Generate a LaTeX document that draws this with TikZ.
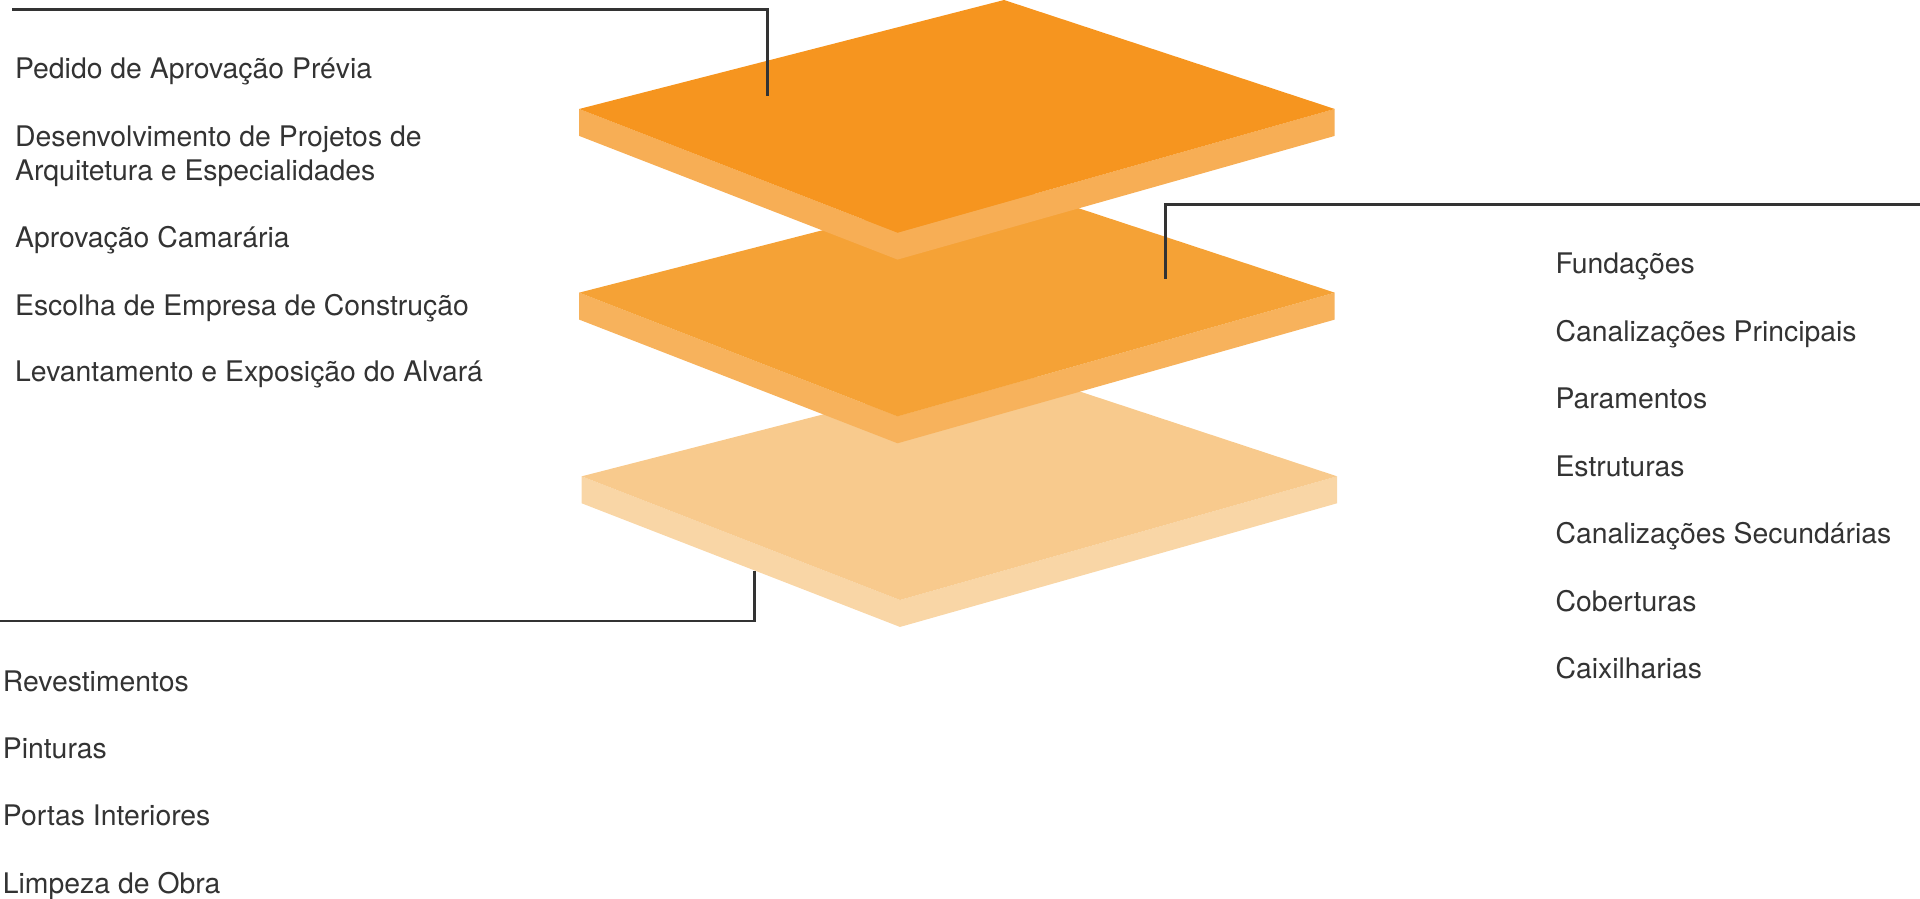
\documentclass[tikz,border=0pt]{standalone}
\usepackage{fontspec}
\setmainfont{TeX Gyre Heros}
\usepackage{tikz}
\usetikzlibrary{positioning,calc}
\definecolor{inktext}{HTML}{333333}
\definecolor{faceA}{HTML}{F6951F}
\definecolor{sideA}{HTML}{F7AE55}
\definecolor{faceB}{HTML}{F5A236}
\definecolor{sideB}{HTML}{F7B25C}
\definecolor{faceC}{HTML}{F8CA8D}
\definecolor{sideC}{HTML}{F9D6A6}
\tikzset{
  item/.style={anchor=base west,inner sep=0pt,text=inktext,font=\fontsize{13.9}{16.3}\selectfont,align=left},
  leader/.style={draw=inktext,line width=1.3pt}
}
% one slab: #1 name, (#2,#3) back corner, #4 face colour, #5 side colour
\newcommand{\slab}[5]{
  \coordinate (#1T) at (#2,#3);
  \coordinate (#1L) at ($(#1T)+(-347,89)$);
  \coordinate (#1R) at ($(#1T)+(270,89)$);
  \coordinate (#1B) at ($(#1T)+(-87,190)$);
  \fill[#5] (#1L) -- (#1B) -- (#1R) -- ++(0,22) -- ($(#1B)+(0,22)$) -- ($(#1L)+(0,22)$) -- cycle;
  \fill[#4] (#1T) -- (#1L) -- (#1B) -- (#1R) -- cycle;
}
\begin{document}
\begin{tikzpicture}[x=0.6pt,y=-0.6pt]
            \useasboundingbox (0,0) rectangle (1568,734);
            \slab{low}{822}{300}{faceC}{sideC}
            \slab{mid}{820}{150}{faceB}{sideB}
            \slab{top}{820}{0}{faceA}{sideA}
            % leaders
            \coordinate (pt1) at (627,78);
            \coordinate (pt2) at (952,228);
            \coordinate (pt3) at (616,466);
            \coordinate (e1) at (10,8);
            \coordinate (e2) at (1568,167);
            \coordinate (e3) at (0,507);
            \draw [leader] (e1) -| (pt1);
            \draw [leader] (e2) -| (pt2);
            \draw [leader] (e3) -| (pt3);
            % first phase
            \node [item] (a1) at (12,64.5) {Pedido de Aprovação Prévia};
            \node [item] (a2) at (12,147) {Desenvolvimento de Projetos de\\Arquitetura e Especialidades};
            \node [item] (a3) at (12,202.5) {Aprovação Camarária};
            \node [item] (a4) at (12,257.3) {Escolha de Empresa de Construção};
            \node [item] (a5) at (12,311.7) {Levantamento e Exposição do Alvará};
            % second phase
            \foreach \t [count=\i] in {Fundações,Canalizações Principais,Paramentos,Estruturas,Canalizações Secundárias,Coberturas,Caixilharias}
              \node [item] (b\i) at (1270,{168.5+55.1*\i}) {\t};
            % third phase
            \foreach \t [count=\i] in {Revestimentos,Pinturas,Portas Interiores,Limpeza de Obra}
              \node [item] (c\i) at (2,{509.5+55*\i}) {\t};
         \end{tikzpicture}
\end{document}
